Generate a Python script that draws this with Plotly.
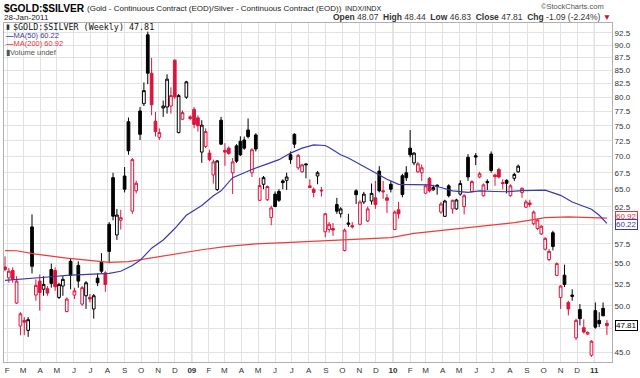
import plotly.graph_objects as go
import pandas as pd
import math

# ---------------- data (weekly, Gold/Silver ratio) ----------------
start_week = "2008-01-28"
n_weeks = 157

opens = [54.58, 53.26, 54.15, 50.32, 47.78, 48.39, 47.31, 59.74, 51.23, 52.87,
         51.91, 51.98, 54.27, 54.15, 50.96, 52.28, 49.36, 55.28, 51.23, 54.78,
         50.2, 51.15, 50.96, 49.65, 53.23, 55.15, 53.86, 60.09, 66.75, 58.66,
         60.64, 67.0, 75.71, 61.9, 64.8, 77.57, 78.85, 92.09, 84.46, 75.81,
         73.11, 78.09, 78.27, 78.44, 86.98, 73.88, 76.15, 80.02, 76.27, 77.85,
         76.38, 70.71, 71.62, 70.55, 67.15, 64.99, 75.98, 71.0, 71.34, 67.49,
         71.71, 72.45, 72.66, 74.31, 67.49, 73.49, 63.43, 65.76, 63.51, 61.0,
         64.32, 64.7, 66.26, 66.35, 70.28, 73.6, 68.25, 67.63, 68.85, 65.28,
         65.03, 67.0, 64.89, 59.09, 59.39, 59.52, 62.82, 61.53, 56.65, 60.09,
         59.91, 64.8, 60.09, 63.19, 60.55, 63.33, 63.78, 67.74, 64.8, 63.78,
         65.76, 59.39, 62.08, 67.04, 67.49, 71.34, 69.01, 67.63, 67.49, 64.46,
         66.65, 64.94, 65.62, 61.77, 61.18, 65.53, 62.21, 62.21, 64.32, 62.54,
         69.88, 64.7, 70.13, 66.85, 64.09, 66.16, 70.39, 67.15, 67.99, 66.01,
         66.35, 64.09, 66.65, 67.63, 64.56, 62.45, 63.05, 60.17, 59.52, 58.79,
         56.81, 55.49, 58.96, 53.55, 50.96, 53.58, 50.39, 51.07, 46.52, 49.58,
         47.6, 46.92, 44.74, 49.47, 48.39, 49.72, 48.07]
highs = [55.9, 54.46, 54.54, 53.46, 49.29, 48.75, 48.75, 61.45, 53.08, 53.67,
         53.46, 52.28, 54.99, 54.54, 52.67, 53.46, 50.96, 55.69, 52.09, 55.28,
         52.28, 52.87, 51.35, 51.35, 53.79, 56.31, 54.06, 60.39, 67.49, 62.21,
         62.08, 68.35, 76.43, 69.77, 66.3, 78.27, 82.72, 92.76, 87.44, 77.4,
         74.59, 79.42, 84.27, 81.82, 87.12, 80.61, 77.68, 83.03, 76.82, 78.27,
         76.82, 75.98, 74.59, 71.08, 69.51, 69.46, 76.55, 72.14, 71.62, 69.77,
         71.98, 73.27, 73.22, 76.27, 71.34, 73.77, 66.75, 67.0, 65.57, 62.68,
         64.7, 65.03, 66.5, 67.49, 70.81, 73.77, 70.39, 68.86, 68.95, 66.5,
         65.28, 67.74, 65.38, 61.63, 60.39, 60.26, 63.78, 62.45, 59.52, 61.53,
         60.39, 65.03, 63.43, 64.65, 62.54, 65.87, 66.26, 68.5, 66.26, 64.32,
         66.26, 62.0, 63.19, 67.34, 68.5, 74.31, 70.71, 69.16, 68.75, 65.76,
         66.85, 65.67, 65.76, 63.19, 63.51, 65.76, 63.51, 63.65, 66.35, 64.32,
         70.39, 66.35, 70.55, 67.63, 65.87, 66.5, 70.81, 67.34, 68.25, 66.5,
         66.5, 65.76, 67.49, 68.75, 65.28, 63.51, 63.51, 62.0, 60.86, 59.96,
         58.35, 56.81, 59.22, 55.15, 52.4, 54.87, 50.58, 51.91, 48.58, 50.2,
         48.5, 47.2, 46.28, 50.39, 49.29, 50.39, 48.44]
lows = [54.06, 52.67, 52.67, 50.2, 46.8, 46.8, 46.63, 53.79, 50.58, 49.47,
        51.15, 51.15, 52.09, 51.72, 50.78, 51.15, 49.29, 51.91, 50.78, 52.09,
        50.01, 49.65, 50.39, 48.58, 52.28, 53.79, 51.6, 55.06, 60.64, 58.01,
        59.39, 64.56, 70.28, 61.53, 64.42, 72.66, 78.44, 82.41, 76.82, 73.22,
        72.66, 76.55, 77.11, 77.11, 79.72, 73.77, 75.98, 79.72, 75.98, 74.59,
        74.05, 69.01, 71.34, 69.27, 65.87, 64.77, 71.87, 68.55, 70.28, 64.32,
        69.01, 70.08, 71.08, 72.94, 66.85, 70.81, 63.33, 65.03, 63.33, 59.96,
        62.45, 63.19, 65.03, 64.92, 68.86, 71.34, 67.97, 67.49, 66.65, 65.18,
        63.86, 65.76, 63.96, 58.35, 58.96, 58.53, 61.53, 61.0, 56.53, 59.74,
        59.52, 62.91, 59.96, 62.91, 60.39, 62.82, 62.21, 64.56, 63.64, 61.63,
        64.56, 59.31, 60.86, 63.86, 66.26, 69.88, 68.66, 67.49, 66.26, 64.32,
        64.56, 64.8, 64.23, 61.53, 61.09, 63.86, 61.53, 62.08, 64.09, 61.45,
        66.26, 64.56, 68.66, 66.65, 63.96, 64.92, 67.49, 65.53, 66.65, 65.03,
        64.42, 63.96, 66.26, 67.49, 63.78, 62.35, 62.45, 59.96, 59.31, 58.66,
        56.65, 55.28, 56.65, 53.46, 49.65, 52.17, 48.93, 50.58, 46.29, 47.85,
        46.98, 46.85, 44.57, 47.49, 47.66, 48.85, 46.83]
closes = [54.27, 54.06, 53.08, 52.87, 49.11, 48.2, 48.47, 54.66, 52.36, 51.52,
          52.48, 51.46, 52.6, 52.2, 52.48, 53.08, 50.78, 53.55, 51.72, 52.87,
          52.09, 52.67, 50.78, 51.15, 52.67, 54.06, 52.48, 56.53, 61.2, 61.35,
          61.0, 65.03, 70.92, 69.51, 65.91, 73.6, 81.21, 84.46, 78.67, 74.05,
          73.88, 78.44, 83.34, 80.31, 80.1, 80.31, 77.28, 82.84, 76.55, 75.25,
          75.03, 75.14, 74.05, 69.51, 69.16, 69.31, 71.98, 70.7, 70.5, 69.16,
          69.27, 70.28, 71.34, 73.22, 71.08, 71.2, 65.57, 66.75, 65.43, 62.35,
          62.54, 63.43, 66.01, 66.85, 69.51, 71.98, 70.19, 68.7, 68.72, 65.53,
          64.56, 67.49, 64.8, 61.53, 60.09, 59.31, 61.9, 62.21, 59.31, 60.26,
          59.74, 64.23, 63.19, 64.32, 62.21, 64.42, 62.82, 64.8, 64.66, 63.43,
          65.03, 61.77, 61.53, 64.27, 66.75, 70.28, 70.55, 68.86, 68.25, 65.53,
          64.8, 65.28, 65.43, 62.91, 63.33, 64.09, 63.43, 63.48, 65.87, 64.09,
          66.85, 66.16, 69.92, 67.34, 65.67, 66.01, 67.84, 66.9, 66.85, 65.87,
          65.9, 65.53, 67.24, 68.5, 65.18, 63.19, 62.82, 61.77, 60.68, 59.83,
          58.22, 56.53, 57.15, 54.99, 52.28, 52.48, 49.65, 51.23, 48.39, 48.58,
          47.14, 47.1, 46.17, 47.66, 48.03, 48.9, 47.81]

# moving averages (week index -> value)
ma50_weeks = [0, 4, 8, 12, 16, 20, 25, 27, 30, 33, 35, 38, 41, 44, 47, 51, 54, 56,
              59, 64, 68, 71, 74, 77, 80, 83, 84, 87, 89, 92, 96, 99, 102, 105,
              110, 113, 116, 120, 123, 127, 130, 134, 137, 140, 144, 147, 152, 154, 156]
ma50_vals = [52.96, 53.08, 53.27, 53.39, 53.55, 53.67, 53.79, 53.79, 54.06, 54.75,
             55.4, 56.94, 58.01, 59.52, 61.32, 62.68, 64.09, 64.8, 66.75, 67.99,
             68.86, 69.51, 70.55, 71.34, 71.87, 71.77, 71.45, 70.28, 69.77, 68.75,
             67.49, 66.5, 65.76, 65.76, 65.67, 65.28, 64.8, 64.56, 64.8, 64.7,
             64.66, 64.84, 64.91, 64.89, 64.14, 63.19, 62.17, 61.32, 60.22]
ma200_weeks = [0, 3, 8, 12, 16, 20, 25, 27, 32, 36, 40, 45, 51, 57, 65, 74, 83, 91,
               100, 106, 114, 123, 132, 137, 140, 146, 152, 156]
ma200_vals = [56.64, 56.61, 56.19, 55.9, 55.69, 55.49, 55.28, 55.15, 55.24, 55.56,
              55.81, 56.31, 56.74, 57.15, 57.49, 57.7, 57.92, 58.09, 58.31, 58.87,
              59.31, 59.74, 60.31, 60.72, 61.0, 61.09, 61.02, 60.92]

y_ticks = [45.0, 47.5, 50.0, 52.5, 55.0, 57.5, 60.0, 62.5, 65.0, 67.5, 70.0, 72.5,
           75.0, 77.5, 80.0, 82.5, 85.0, 87.5, 90.0, 92.5]
y_ticks_hidden = [47.5, 60.0]   # covered by the value tags in the original
month_letters = ["J", "F", "M", "A", "M", "J", "J", "A", "S", "O", "N", "D"]

last_close = 47.81
ma50_last = 60.22
ma200_last = 60.92

# ---------------- figure ----------------
dates = pd.date_range(start_week, periods=n_weeks, freq="7D")
prev_close = [opens[0]] + closes[:-1]
is_black = [c >= p for c, p in zip(closes, prev_close)]

RED = "#dc143c"
BLACK = "#000000"


def candles(flag, color):
    idx = [i for i in range(n_weeks) if is_black[i] == flag]
    return go.Candlestick(
        x=[dates[i] for i in idx],
        open=[opens[i] for i in idx],
        high=[highs[i] for i in idx],
        low=[lows[i] for i in idx],
        close=[closes[i] for i in idx],
        increasing=dict(line=dict(color=color, width=1), fillcolor="white"),
        decreasing=dict(line=dict(color=color, width=1), fillcolor=color),
        whiskerwidth=0,
        showlegend=False,
        hoverinfo="skip",
    )


fig = go.Figure()
fig.add_trace(candles(True, BLACK))
fig.add_trace(candles(False, RED))
fig.add_trace(go.Scatter(x=[dates[i] for i in ma200_weeks], y=ma200_vals, mode="lines",
                         line=dict(color="#f03a3a", width=1.2), showlegend=False, hoverinfo="skip"))
fig.add_trace(go.Scatter(x=[dates[i] for i in ma50_weeks], y=ma50_vals, mode="lines",
                         line=dict(color="#3a3aaa", width=1.2), showlegend=False, hoverinfo="skip"))

month_ticks = pd.date_range("2008-02-01", "2011-01-01", freq="MS")
month_text = [("<b>%02d</b>" % (d.year % 100)) if d.month == 1 else month_letters[d.month - 1]
              for d in month_ticks]

FONT = "Liberation Sans, Arial, sans-serif"
fig.update_layout(
    width=640, height=378,
    margin=dict(l=3, r=28, t=23, b=11),
    paper_bgcolor="white", plot_bgcolor="white",
    showlegend=False,
    boxgap=0.3, boxgroupgap=0,
    xaxis=dict(
        type="date",
        range=["2008-01-26 04:30", "2011-02-02 05:00"],
        rangeslider=dict(visible=False),
        tickmode="array", tickvals=month_ticks, ticktext=month_text,
        showgrid=True, gridcolor="#e2e2e2", gridwidth=1,
        tickfont=dict(family=FONT, size=8, color="#333"),
        ticks="", showline=True, linecolor="#b0b0b0", linewidth=1, mirror=True,
        zeroline=False, fixedrange=True,
    ),
    yaxis=dict(
        type="log", side="right",
        range=[math.log10(44.06), math.log10(94.58)],
        tickmode="array", tickvals=y_ticks,
        ticktext=["" if v in y_ticks_hidden else "%.1f" % v for v in y_ticks],
        showgrid=True, gridcolor="#e2e2e2", gridwidth=1,
        tickfont=dict(family=FONT, size=8, color="#333"),
        ticks="", showline=True, linecolor="#b0b0b0", linewidth=1, mirror=True,
        zeroline=False, fixedrange=True,
    ),
)

# darker year separators
for yr in ["2009-01-01", "2010-01-01", "2011-01-01"]:
    fig.add_shape(type="line", xref="x", yref="paper", x0=yr, x1=yr, y0=0, y1=1,
                  line=dict(color="#c8c8c8", width=1), layer="below")


def px(x):
    return (x - 3) / 609.0


def py(y):
    return (367 - y) / 344.0


ann = []
ann.append(dict(text="<b>$GOLD:$SILVER</b>", x=px(1), y=py(8.5), xanchor="left", yanchor="middle",
                font=dict(family=FONT, size=10.2, color="#000")))
ann.append(dict(text="(Gold - Continuous Contract (EOD)/Silver - Continuous Contract (EOD))",
                x=px(84), y=py(8), xanchor="left", yanchor="middle",
                font=dict(family=FONT, size=8.0, color="#222")))
ann.append(dict(text="INDX/INDX", x=px(343), y=py(8), xanchor="left", yanchor="middle",
                font=dict(family=FONT, size=7.2, color="#222")))
ann.append(dict(text="©StockCharts.com", x=px(606), y=py(6), xanchor="right", yanchor="middle",
                font=dict(family=FONT, size=7.5, color="#555")))
ann.append(dict(text="28-Jan-2011", x=px(1), y=py(17), xanchor="left", yanchor="middle",
                font=dict(family=FONT, size=8, color="#222")))
ann.append(dict(text="<b>Open</b> 48.07  <b>High</b> 48.44  <b>Low</b> 46.83  <b>Close</b> 47.81  "
                     "<b>Chg</b> -1.09 (-2.24%) <span style='color:#cc1133'>▼</span>",
                x=px(613), y=py(17), xanchor="right", yanchor="middle",
                font=dict(family=FONT, size=8.5, color="#333")))
ann.append(dict(text="$GOLD:$SILVER (Weekly) 47.81", x=px(10), y=py(27), xanchor="left",
                yanchor="middle", font=dict(family="DejaVu Sans Mono, monospace", size=8.4, color="#111")))
ann.append(dict(text="▮", x=px(3), y=py(27), xanchor="left", yanchor="middle",
                font=dict(family=FONT, size=7, color="#333")))
ann.append(dict(text="<b>—</b>MA(50) 60.22", x=px(3), y=py(35.5), xanchor="left", yanchor="middle",
                font=dict(family=FONT, size=7.5, color="#3a3aaa")))
ann.append(dict(text="<b>—</b>MA(200) 60.92", x=px(3), y=py(44), xanchor="left", yanchor="middle",
                font=dict(family=FONT, size=7.5, color="#e83030")))
ann.append(dict(text="▮Volume undef", x=px(3), y=py(52.5), xanchor="left", yanchor="middle",
                font=dict(family=FONT, size=7.5, color="#555")))

# right-hand value tags
for val, col, ys in [(ma200_last, "#e83030", 2), (ma50_last, "#3a3aaa", -1), (last_close, "#000", 0)]:
    ann.append(dict(text="%.2f" % val, xref="paper", yref="y", x=1.0, y=math.log10(val),
                    xanchor="left", yanchor="middle", xshift=3, yshift=ys,
                    font=dict(family=FONT, size=8, color=col),
                    bgcolor="white", bordercolor=col, borderwidth=1, borderpad=0))

for a in ann:
    a.setdefault("xref", "paper")
    a.setdefault("yref", "paper")
    a["showarrow"] = False
    fig.add_annotation(**a)

fig.write_html("out.html", config={"displayModeBar": False, "staticPlot": True},
               post_script="document.body.style.margin='0';document.body.style.overflow='hidden';")
